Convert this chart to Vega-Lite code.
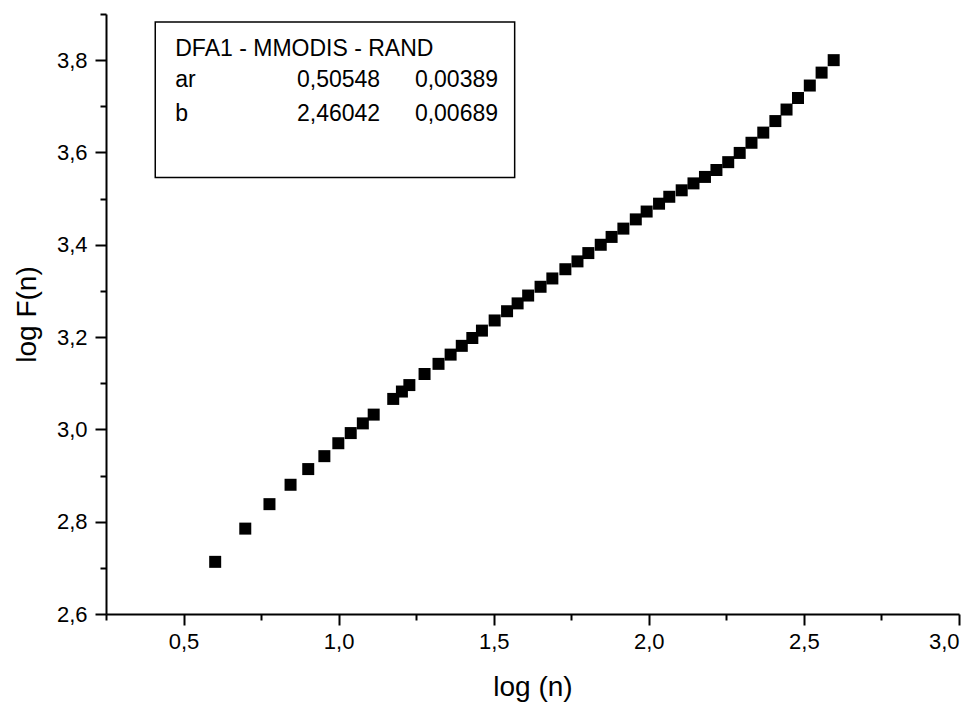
{
  "$schema": "https://vega.github.io/schema/vega-lite/v6.json",
  "width": 853,
  "height": 600,
  "autosize": {"type": "none"},
  "padding": {"left": 106, "top": 14, "right": 21, "bottom": 97},
  "background": "white",
  "config": {
    "view": {"stroke": null},
    "axis": {
      "domainColor": "black", "tickColor": "black", "labelColor": "black", "titleColor": "black",
      "labelFont": "Liberation Sans", "titleFont": "Liberation Sans",
      "domainWidth": 2, "tickWidth": 2, "grid": false, "titleFontWeight": "normal"
    }
  },
  "datasets": {
    "pts": [
      {"x": 0.602, "y": 2.713}, {"x": 0.699, "y": 2.785}, {"x": 0.777, "y": 2.838}, {"x": 0.845, "y": 2.880},
      {"x": 0.902, "y": 2.914}, {"x": 0.954, "y": 2.942}, {"x": 0.999, "y": 2.970}, {"x": 1.039, "y": 2.992},
      {"x": 1.078, "y": 3.013}, {"x": 1.113, "y": 3.032}, {"x": 1.176, "y": 3.066}, {"x": 1.204, "y": 3.082},
      {"x": 1.228, "y": 3.096}, {"x": 1.277, "y": 3.120}, {"x": 1.322, "y": 3.142}, {"x": 1.361, "y": 3.162},
      {"x": 1.397, "y": 3.181}, {"x": 1.431, "y": 3.198}, {"x": 1.462, "y": 3.214}, {"x": 1.503, "y": 3.236},
      {"x": 1.543, "y": 3.256}, {"x": 1.577, "y": 3.273}, {"x": 1.611, "y": 3.290}, {"x": 1.651, "y": 3.309},
      {"x": 1.689, "y": 3.327}, {"x": 1.731, "y": 3.347}, {"x": 1.770, "y": 3.364}, {"x": 1.805, "y": 3.382},
      {"x": 1.845, "y": 3.400}, {"x": 1.880, "y": 3.417}, {"x": 1.918, "y": 3.435}, {"x": 1.958, "y": 3.455},
      {"x": 1.993, "y": 3.472}, {"x": 2.033, "y": 3.489}, {"x": 2.066, "y": 3.504}, {"x": 2.106, "y": 3.518},
      {"x": 2.144, "y": 3.533}, {"x": 2.181, "y": 3.547}, {"x": 2.218, "y": 3.562}, {"x": 2.256, "y": 3.579},
      {"x": 2.293, "y": 3.599}, {"x": 2.331, "y": 3.621}, {"x": 2.369, "y": 3.643}, {"x": 2.408, "y": 3.668},
      {"x": 2.444, "y": 3.693}, {"x": 2.481, "y": 3.718}, {"x": 2.519, "y": 3.745}, {"x": 2.557, "y": 3.773},
      {"x": 2.596, "y": 3.800}
    ],
    "box": [{"x": 0.4088, "x2": 1.5675, "y": 3.8828, "y2": 3.5455}],
    "leftText": [
      {"x": 0.4733, "y": 3.8238, "t": "DFA1 - MMODIS - RAND"},
      {"x": 0.4733, "y": 3.7568, "t": "ar"},
      {"x": 0.4733, "y": 3.6832, "t": "b"}
    ],
    "rightText": [
      {"x": 1.1337, "y": 3.7568, "t": "0,50548"},
      {"x": 1.5139, "y": 3.7568, "t": "0,00389"},
      {"x": 1.1337, "y": 3.6832, "t": "2,46042"},
      {"x": 1.5139, "y": 3.6832, "t": "0,00689"}
    ]
  },
  "layer": [
    {
      "data": {"name": "box"},
      "mark": {"type": "rect", "fill": "white", "stroke": "black", "strokeWidth": 1.5},
      "encoding": {
        "x": {"field": "x", "type": "quantitative",
              "scale": {"domain": [0.25, 3.0], "nice": false, "zero": false},
              "axis": {"orient": "bottom", "values": [0.25, 0.75, 1.25, 1.75, 2.25, 2.75], "tickSize": 6, "labels": false, "domain": false, "title": null}},
        "x2": {"field": "x2"},
        "y": {"field": "y", "type": "quantitative",
              "scale": {"domain": [2.6, 3.9], "nice": false, "zero": false},
              "axis": {"orient": "left", "values": [2.7, 2.9, 3.1, 3.3, 3.5, 3.7, 3.9], "tickSize": 6, "labels": false, "domain": false, "title": null}},
        "y2": {"field": "y2"}
      }
    },
    {
      "data": {"name": "pts"},
      "mark": {"type": "point", "shape": "square", "filled": true, "color": "black", "opacity": 1, "size": 144},
      "encoding": {
        "x": {"field": "x", "type": "quantitative",
              "axis": {"orient": "bottom", "values": [0.5, 1.0, 1.5, 2.0, 2.5, 3.0], "tickSize": 11,
                       "labelExpr": "replace(format(datum.value, '.1f'), '.', ',')", "labelFontSize": 22, "labelPadding": 6,
                       "title": "log (n)", "titleFontSize": 28, "titlePadding": 21}},
        "y": {"field": "y", "type": "quantitative",
              "axis": {"orient": "left", "values": [2.6, 2.8, 3.0, 3.2, 3.4, 3.6, 3.8], "tickSize": 11,
                       "labelExpr": "replace(format(datum.value, '.1f'), '.', ',')", "labelFontSize": 22, "labelPadding": 8,
                       "title": "log F(n)", "titleFontSize": 28, "titlePadding": 15}}
      }
    },
    {
      "data": {"name": "leftText"},
      "mark": {"type": "text", "align": "left", "baseline": "middle", "font": "Liberation Sans", "fontSize": 23, "color": "black"},
      "encoding": {
        "x": {"field": "x", "type": "quantitative", "axis": null},
        "y": {"field": "y", "type": "quantitative", "axis": null},
        "text": {"field": "t"}
      }
    },
    {
      "data": {"name": "rightText"},
      "mark": {"type": "text", "align": "right", "baseline": "middle", "font": "Liberation Sans", "fontSize": 23, "color": "black"},
      "encoding": {
        "x": {"field": "x", "type": "quantitative", "axis": null},
        "y": {"field": "y", "type": "quantitative", "axis": null},
        "text": {"field": "t"}
      }
    }
  ],
  "resolve": {"axis": {"x": "independent", "y": "independent"}}
}
